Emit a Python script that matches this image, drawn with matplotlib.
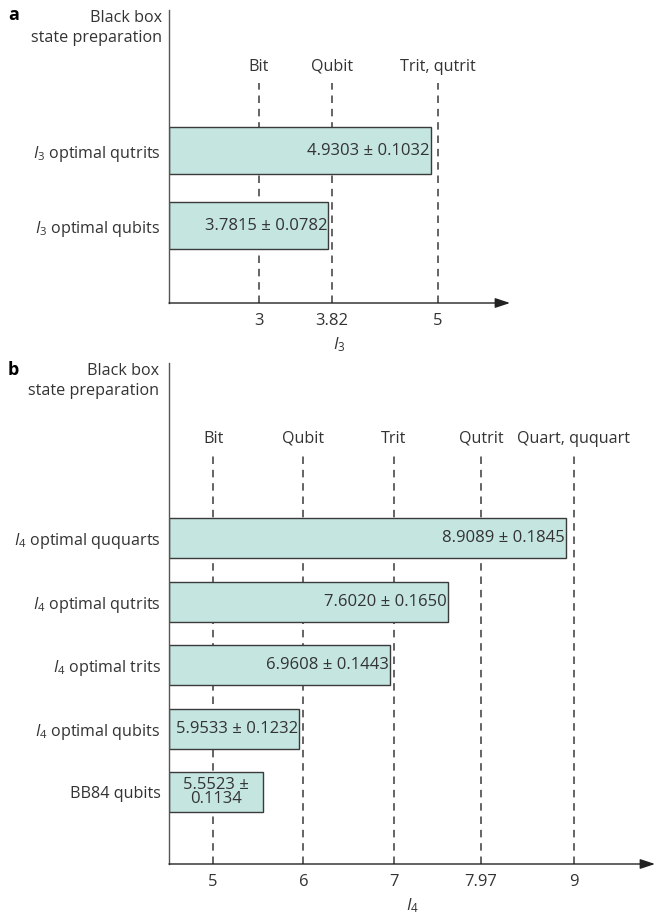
import numpy as np
import matplotlib
matplotlib.use("Agg")
import matplotlib.pyplot as plt

plt.rcParams['font.family'] = ['Open Sans', 'DejaVu Sans']
plt.rcParams['mathtext.fontset'] = 'custom'
plt.rcParams['mathtext.rm'] = 'Open Sans'
plt.rcParams['mathtext.it'] = 'Open Sans:italic'

# Panel a data
A_LABELS = [r'$I_3$ optimal qubits', r'$I_3$ optimal qutrits']
A_VALUES = [3.7815, 4.9303]
A_TEXT = ['3.7815 ± 0.0782', '4.9303 ± 0.1032']
A_BOUNDS = [3, 3.82, 5]
A_BOUND_LABELS = ['Bit', 'Qubit', 'Trit, qutrit']
A_TICKLABELS = ['3', '3.82', '5']

# Panel b data
B_LABELS = ['BB84 qubits', r'$I_4$ optimal qubits', r'$I_4$ optimal trits',
            r'$I_4$ optimal qutrits', r'$I_4$ optimal ququarts']
B_VALUES = [5.5523, 5.9533, 6.9608, 7.6020, 8.9089]
B_TEXT = ['5.5523 ±\n0.1134', '5.9533 ± 0.1232', '6.9608 ± 0.1443',
          '7.6020 ± 0.1650', '8.9089 ± 0.1845']
B_BOUNDS = [5, 6, 7, 7.97, 9]
B_BOUND_LABELS = ['Bit', 'Qubit', 'Trit', 'Qutrit', 'Quart, ququart']
B_TICKLABELS = ['5', '6', '7', '7.97', '9']

BAR_COLOR = '#c4e5e0'
EDGE = '#3a3a3a'
DASH = '#4a4a4a'
TXT = '#333333'
FS = 12      # numbers
FSL = 11.6   # word labels

fw, fh = 6.6, 9.15
fig = plt.figure(figsize=(fw, fh), dpi=100)


def draw_panel(ax, labels, values, texts, bounds, bound_labels, ticklabels,
               xlim, ylim, line_top, label_y, xlabel):
    ypos = np.arange(len(values))
    ax.set_xlim(*xlim)
    ax.set_ylim(*ylim)

    # dashed bound lines behind the bars
    for b, bl in zip(bounds, bound_labels):
        ax.plot([b, b], [ylim[0], line_top], ls=(0, (4.5, 3.5)), color=DASH,
                lw=1.2, zorder=1)
        ax.text(b, label_y, bl, ha='center', va='center', fontsize=FSL,
                color=TXT)

    ax.barh(ypos, np.array(values) - xlim[0], left=xlim[0], height=0.63,
            color=BAR_COLOR, edgecolor=EDGE, linewidth=1.0, zorder=2)

    for y, v, t in zip(ypos, values, texts):
        if '\n' in t:
            ax.text((xlim[0] + v) / 2, y, t, ha='center', va='center',
                    fontsize=FS, color=TXT, linespacing=0.85, zorder=3)
        else:
            ax.text(v - 0.015, y, t, ha='right', va='center', fontsize=FS,
                    color=TXT, zorder=3)

    ax.set_yticks(ypos)
    ax.set_yticklabels(labels, fontsize=FSL, color=TXT)
    ax.set_xticks(bounds)
    ax.set_xticklabels(ticklabels, fontsize=FS, color=TXT)
    ax.tick_params(axis='both', length=0)
    ax.tick_params(axis='y', pad=6)
    ax.tick_params(axis='x', pad=7)
    ax.set_xlabel(xlabel, fontsize=FS, color=TXT, labelpad=5)

    for s in ['top', 'right', 'bottom']:
        ax.spines[s].set_visible(False)
    ax.spines['left'].set_color('#555555')
    ax.spines['left'].set_linewidth(1.0)
    ax.annotate('', xy=(1, 0), xytext=(0, 0), xycoords='axes fraction',
                arrowprops=dict(arrowstyle='-|>,head_length=0.9,head_width=0.3',
                                color='#222222', lw=1.0, shrinkA=0,
                                shrinkB=0))
    ax.text(-0.02, 1 - 18 / (ax.get_position().height * fh * 100),
            'Black box\nstate preparation', transform=ax.transAxes,
            ha='right', va='center', fontsize=FSL, color=TXT,
            linespacing=1.3)


# Panel a
ax1 = fig.add_axes([169 / 660, 1 - 303 / 915, 341 / 660, 293 / 915])
draw_panel(ax1, A_LABELS, A_VALUES, A_TEXT, A_BOUNDS, A_BOUND_LABELS,
           A_TICKLABELS, (2.0, 5.81), (-1.03, 2.88), 1.91, 2.12, r'$I_3$')

# Panel b
ax2 = fig.add_axes([169 / 660, 1 - 864 / 915, 486 / 660, 501 / 915])
draw_panel(ax2, B_LABELS, B_VALUES, B_TEXT, B_BOUNDS, B_BOUND_LABELS,
           B_TICKLABELS, (4.51, 9.9), (-1.134, 6.76), 5.31, 5.57, r'$I_4$')

fig.text(8 / 660, 1 - 15 / 915, 'a', fontsize=13, fontweight='bold',
         va='center', ha='left')
fig.text(8 / 660, 1 - 370 / 915, 'b', fontsize=13, fontweight='bold',
         va='center', ha='left')

fig.savefig('out.png', dpi=100)
